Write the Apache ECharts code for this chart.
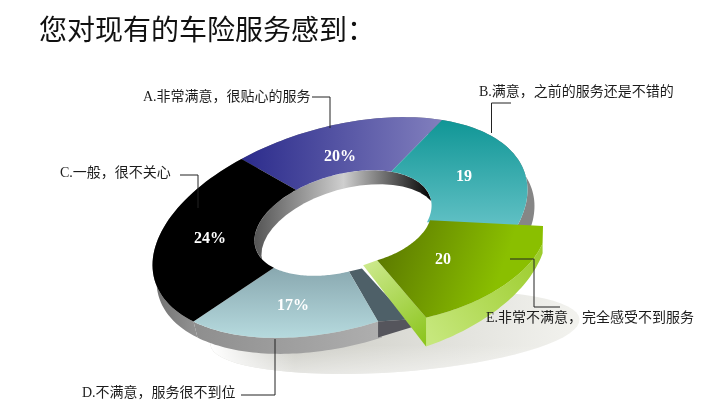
<!DOCTYPE html>
<html><head><meta charset="utf-8">
<style>html,body{margin:0;padding:0;background:#fff}#c{width:709px;height:417px}</style>
<script src="https://cdn.jsdelivr.net/npm/echarts@6/dist/echarts.min.js"></script></head>
<body><div id="c"></div>
<script>
const titleText = '您对现有的车险服务感到：';
const categories = ['A.非常满意，很贴心的服务','B.满意，之前的服务还是不错的','E.非常不满意，完全感受不到服务','D.不满意，服务很不到位','C.一般，很不关心'];
const values = [20,19,20,17,24];
const valueLabels = ['20%','19','20','17%','24%'];

// layout (perspective projection of the ring)
const OUT = {cx:340,cy:227.5,a:192.7,b:101}, INN = {cx:343,cy:223,a:91,b:48.5};
const TILT = 15.75*Math.PI/180, START = -113.3;
const skew = [0,-7.3,0,-12.4,-10.5,0];
const innerSkew = [0,0,0,8,0,0];
const WALL = [4,16], WALL_B = [7,16], HOLE = [7,14];
const total = values.reduce((a,b)=>a+b,0);
const bounds = [START]; { let c=0; values.forEach((v,i)=>{c+=v; bounds.push(START+c/total*360+skew[i+1]);}); }
const EXPLODED = 2;
const exOff = {os:[25,18],oe:[48,-4],is:[3,-2],ie:[16,-8]};
const exCorner = [543,226], exDepth = [10,29];
const lg=(x,y,x2,y2,a,b,c)=>new echarts.graphic.LinearGradient(x,y,x2,y2,c?[{offset:0,color:a},{offset:.5,color:b},{offset:1,color:c}]:[{offset:0,color:a},{offset:1,color:b}],true);
function ell(e,t,sx,sy){const r=t*Math.PI/180,u=e.a*Math.cos(r),v=e.b*Math.sin(r);
  return [e.cx+u*Math.cos(TILT)+v*Math.sin(TILT)+(sx||0), e.cy-u*Math.sin(TILT)+v*Math.cos(TILT)+(sy||0)];}
function arc(e,t0,t1,sx,sy,fn){const p=[];for(let k=0;k<=48;k++){const f=k/48,t=t0+(t1-t0)*f;let q=ell(e,t,sx,sy);if(fn)q=fn(q,f);p.push(q);}return p;}
function offE(r){return (q,f)=>{const o=exOff;
  const a=r?o.os:o.is,b=r?o.oe:o.ie;return [q[0]+a[0]+(b[0]-a[0])*f,q[1]+a[1]+(b[1]-a[1])*f];};}
const topFill=[
  ()=>lg(243,150,444,150,'#2c2c8c','#8280be'),
  ()=>lg(470,120,470,225,'#109696','#60c0c4'),
  ()=>lg(385,235,500,275,'#5c7a00','#8abf00'),
  ()=>lg(300,265,300,338,'#87a6ae','#b6dade'),
  ()=>'#000'];
const wallFill=['#888','#868686',null,lg(193,340,378,340,'#8e8e8e','#aeaeae'),lg(152,300,193,300,'#707070','#909090')];
const poly=(points,fill,z2)=>({type:'polygon',z2,silent:true,shape:{points},style:{fill,stroke:null}});

function renderSlice(params,api){
  const i=params.dataIndex,t0=bounds[i],t1=bounds[i+1],ch=[];
  if(i===EXPLODED){
    const oa=arc(OUT,t0,t1,0,0,offE(true)),ia=arc(INN,t0,t1,0,0,offE(false));
    const wb=oa.map((q,k)=>[q[0],q[1]+exDepth[0]+(exDepth[1]-exDepth[0])*k/48]);
    const endO=oa[48],endI=ia[48],dep=exDepth[1];
    ch.push(poly(oa.concat(wb.slice().reverse()),lg(426,330,540,250,'#c6e77c','#9ccc2c'),40));
    ch.push(poly([endI,endO,[endO[0],endO[1]+dep],[endI[0]-14,endI[1]+5]],lg(368,262,426,342,'#cce98c','#8cc51e'),41));
    ch.push(poly([exCorner].concat(oa,ia.slice().reverse()),topFill[i](),42));
  } else {
    const oa=arc(OUT,t0,t1),ia=arc(INN,t0+innerSkew[i],t1+innerSkew[i+1]);
    if(wallFill[i]){const s=i===1?WALL_B:WALL,wb=arc(OUT,t0,t1,s[0],s[1]);
      ch.push(poly(oa.concat(wb.slice().reverse()),wallFill[i],10));}
    ch.push(poly(oa.concat(ia.slice().reverse()),topFill[i](),30));
    if(i===3){ // cut faces next to the pulled-out slice
      const a=ia[0],b=oa[0];
      ch.push(poly([a,[a[0]+13,a[1]-3],[b[0]+30,b[1]-2],b],'#4e6068',20));
      ch.push(poly([b,[b[0]+30,b[1]-2],[b[0]+36,b[1]+5],[b[0],b[1]+16]],'#55555c',21));
    }
  }
  return {type:'group',children:ch};
}
function renderLabels(params,api){
  const spots=[[340,157],[464,177],[443,260],[293,306],[210,239]];
  const p=spots[params.dataIndex];
  return {type:'text',z2:60,silent:true,x:p[0],y:p[1],style:{text:valueLabels[params.dataIndex],fill:'#fff',
    font:'bold 16px "Liberation Serif","DejaVu Serif",serif',align:'center',verticalAlign:'middle'}};
}
function renderBack(params,api){
  const full=(e,sx,sy)=>arc(e,0,360,sx,sy);
  const SH={cx:395,cy:332,a:185,b:40};
  const shadow=[];for(let k=0;k<=72;k++){const r=k*5*Math.PI/180,u=SH.a*Math.cos(r),v=SH.b*Math.sin(r),th=4*Math.PI/180;
    shadow.push([SH.cx+u*Math.cos(th)+v*Math.sin(th),SH.cy-u*Math.sin(th)+v*Math.cos(th)]);}
  return {type:'group',children:[
    poly(shadow,lg(280,330,575,335,'#cbcbc4','#f2f2ee'),1),
    poly(shadow,lg(0,345,0,374,'rgba(255,255,255,0)','rgba(255,255,255,0.5)'),2),
    poly(shadow,lg(295,0,212,0,'rgba(255,255,255,0)','rgba(255,255,255,1)'),3),
    poly(full(INN),lg(255,215,432,215,'#555555','#cfcfcf','#000000'),5),
    poly(full(INN,HOLE[0],HOLE[1]),'#fff',6)
  ]};
}
const labelStyle={font:'14px "Liberation Serif","Noto Sans CJK SC",sans-serif',fill:'#1c1c1c'};
const notes=[
  {x:143,y:97,i:0,line:[[312,97],[330,97],[330,128]]},
  {x:479,y:92,i:1,line:[[511,103],[491.5,103],[491.5,133]]},
  {x:486,y:318,i:2,line:[[510,259],[534,259],[534,307],[560,307]]},
  {x:82,y:393,i:3,line:[[241,395],[275,395],[275,339]]},
  {x:60,y:173,i:4,line:[[180,175],[198,175],[198,208]]}
];
const graphics=[];
notes.forEach(n=>{
  graphics.push({type:'polyline',z:100,silent:true,shape:{points:n.line},style:{stroke:'#222',lineWidth:1,fill:null}});
  graphics.push({type:'text',z:100,silent:true,x:n.x,y:n.y,style:{text:categories[n.i],font:labelStyle.font,fill:labelStyle.fill,verticalAlign:'middle'}});
});
const chart=echarts.init(document.getElementById('c'),null,{renderer:'canvas'});
chart.setOption({
  animation:false,backgroundColor:'#fff',
  title:{text:titleText,left:34,top:10,textStyle:{fontFamily:'"Noto Sans CJK SC"',fontSize:28,fontWeight:'normal',color:'#111'}},
  graphic:graphics,
  series:[
   {type:'custom',coordinateSystem:'none',z:1,silent:true,data:[0],renderItem:renderBack},
   {type:'custom',coordinateSystem:'none',z:2,silent:true,data:values,renderItem:renderSlice},
   {type:'custom',coordinateSystem:'none',z:3,silent:true,data:values,renderItem:renderLabels}
  ]
});
</script></body></html>
